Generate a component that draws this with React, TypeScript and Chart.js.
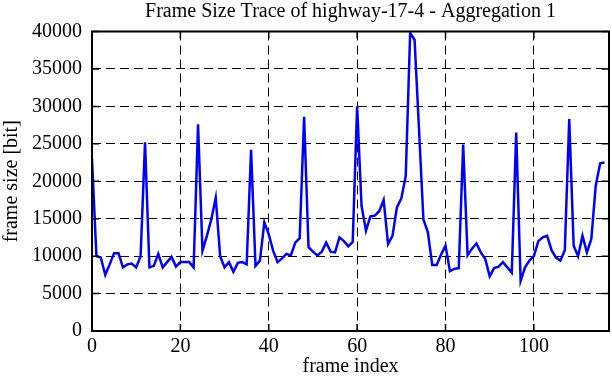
import React, { useEffect, useRef } from "react";
import { Chart, registerables } from "chart.js";

Chart.register(...registerables);

const chartTitle = "Frame Size Trace of highway-17-4 - Aggregation 1";
const xAxisTitle = "frame index";
const yAxisTitle = "frame size [bit]";

const xTickValues = [0, 20, 40, 60, 80, 100];
const yTickValues = [0, 5000, 10000, 15000, 20000, 25000, 30000, 35000, 40000];

const frameSizes = [
  23000, 10000, 9800, 7500, 8900, 10400, 10400, 8500, 8900, 9000,
  8500, 10000, 25200, 8500, 8700, 10300, 8500, 9200, 9900, 8600,
  9200, 9200, 9200, 8500, 27600, 10700, 12700, 14900, 17800, 10000,
  8500, 9200, 7900, 9100, 9200, 8900, 24200, 8700, 9400, 14500,
  12900, 10700, 9200, 9700, 10300, 10100, 11800, 12400, 28600, 11200,
  10600, 10100, 10600, 11800, 10600, 10500, 12500, 12000, 11300, 11900,
  30000, 16700, 13400, 15300, 15400, 16000, 17500, 11600, 12700, 16500,
  17700, 20700, 39800, 38900, 27000, 14900, 13200, 8800, 8800, 10200,
  11400, 8000, 8300, 8400, 24900, 10100, 11000, 11700, 10500, 9600,
  7300, 8400, 8600, 9200, 8500, 7800, 26500, 6700, 8500, 9400,
  10000, 12000, 12500, 12700, 10800, 9800, 9400, 10800, 28300, 11400,
  10000, 12700, 10500, 12300, 19400, 22400, 22500,
];

const frameIndex = frameSizes.map((_, i) => i);

const FONT = "'Liberation Serif', 'Times New Roman', serif";

const framePlugin = {
  id: "gnuplotFrame",
  afterDraw(chart: any) {
    const { ctx, chartArea } = chart;
    const { left, right, top, bottom } = chartArea;
    const xs = chart.scales.x;
    const ys = chart.scales.y;
    const len = 7;
    ctx.save();
    ctx.strokeStyle = "#000";
    ctx.lineWidth = 1.5;
    ctx.setLineDash([]);
    ctx.beginPath();
    xs.ticks.forEach((t: any) => {
      const px = xs.getPixelForValue(t.value);
      ctx.moveTo(px, bottom);
      ctx.lineTo(px, bottom - len);
      ctx.moveTo(px, top);
      ctx.lineTo(px, top + len);
    });
    ys.ticks.forEach((t: any) => {
      const py = ys.getPixelForValue(t.value);
      ctx.moveTo(left, py);
      ctx.lineTo(left + len, py);
      ctx.moveTo(right, py);
      ctx.lineTo(right - len, py);
    });
    ctx.stroke();
    ctx.lineWidth = 2;
    ctx.strokeRect(left, top, right - left, bottom - top);
    ctx.restore();
  },
};

export default function App() {
  const canvasRef = useRef<HTMLCanvasElement | null>(null);

  useEffect(() => {
    if (!canvasRef.current) return;
    const chart = new Chart(canvasRef.current, {
      type: "line",
      data: {
        datasets: [
          {
            data: frameIndex.map((x, i) => ({ x, y: frameSizes[i] })),
            borderColor: "#0000ff",
            borderWidth: 2.5,
            pointRadius: 0,
            tension: 0,
            fill: false,
          },
        ],
      },
      options: {
        responsive: false,
        animation: false,
        layout: { padding: { left: 0, right: 3, top: 0, bottom: 0 } },
        plugins: {
          legend: { display: false },
          tooltip: { enabled: false },
          title: {
            display: true,
            fullSize: false,
            text: chartTitle,
            color: "#000",
            font: { family: FONT, size: 20, weight: "normal", lineHeight: 1.2 },
            padding: { top: 0, bottom: 7.5 },
          },
        },
        scales: {
          x: {
            type: "linear",
            min: 0,
            max: 117,
            afterBuildTicks: (scale: any) => {
              scale.ticks = xTickValues.map((v) => ({ value: v }));
            },
            afterFit: (scale: any) => {
              scale.height = 51;
            },
            grid: { color: "#000", lineWidth: 1, drawTicks: false },
            border: { display: false, dash: [9, 5] },
            ticks: {
              color: "#000",
              font: { family: FONT, size: 20 },
              padding: 4,
              maxRotation: 0,
              callback: (v: any) => String(v),
            },
            title: {
              display: true,
              text: xAxisTitle,
              color: "#000",
              font: { family: FONT, size: 20, lineHeight: 1.2 },
              padding: { top: 0, bottom: 3 },
            },
          },
          y: {
            type: "linear",
            min: 0,
            max: 40000,
            afterBuildTicks: (scale: any) => {
              scale.ticks = yTickValues.map((v) => ({ value: v }));
            },
            afterFit: (scale: any) => {
              scale.width = 92;
            },
            grid: { color: "#000", lineWidth: 1, drawTicks: false },
            border: { display: false, dash: [9, 5] },
            ticks: {
              color: "#000",
              font: { family: FONT, size: 20 },
              padding: 10,
              callback: (v: any) => String(v),
            },
            title: {
              display: true,
              text: yAxisTitle,
              color: "#000",
              font: { family: FONT, size: 20, lineHeight: 1.2 },
              padding: { top: 0, bottom: 0 },
            },
          },
        },
      },
      plugins: [framePlugin],
    });
    return () => chart.destroy();
  }, []);

  return (
    <div style={{ position: "absolute", left: 0, top: 0, width: 612, height: 382, background: "#fff" }}>
      <canvas ref={canvasRef} width={612} height={382} />
    </div>
  );
}
